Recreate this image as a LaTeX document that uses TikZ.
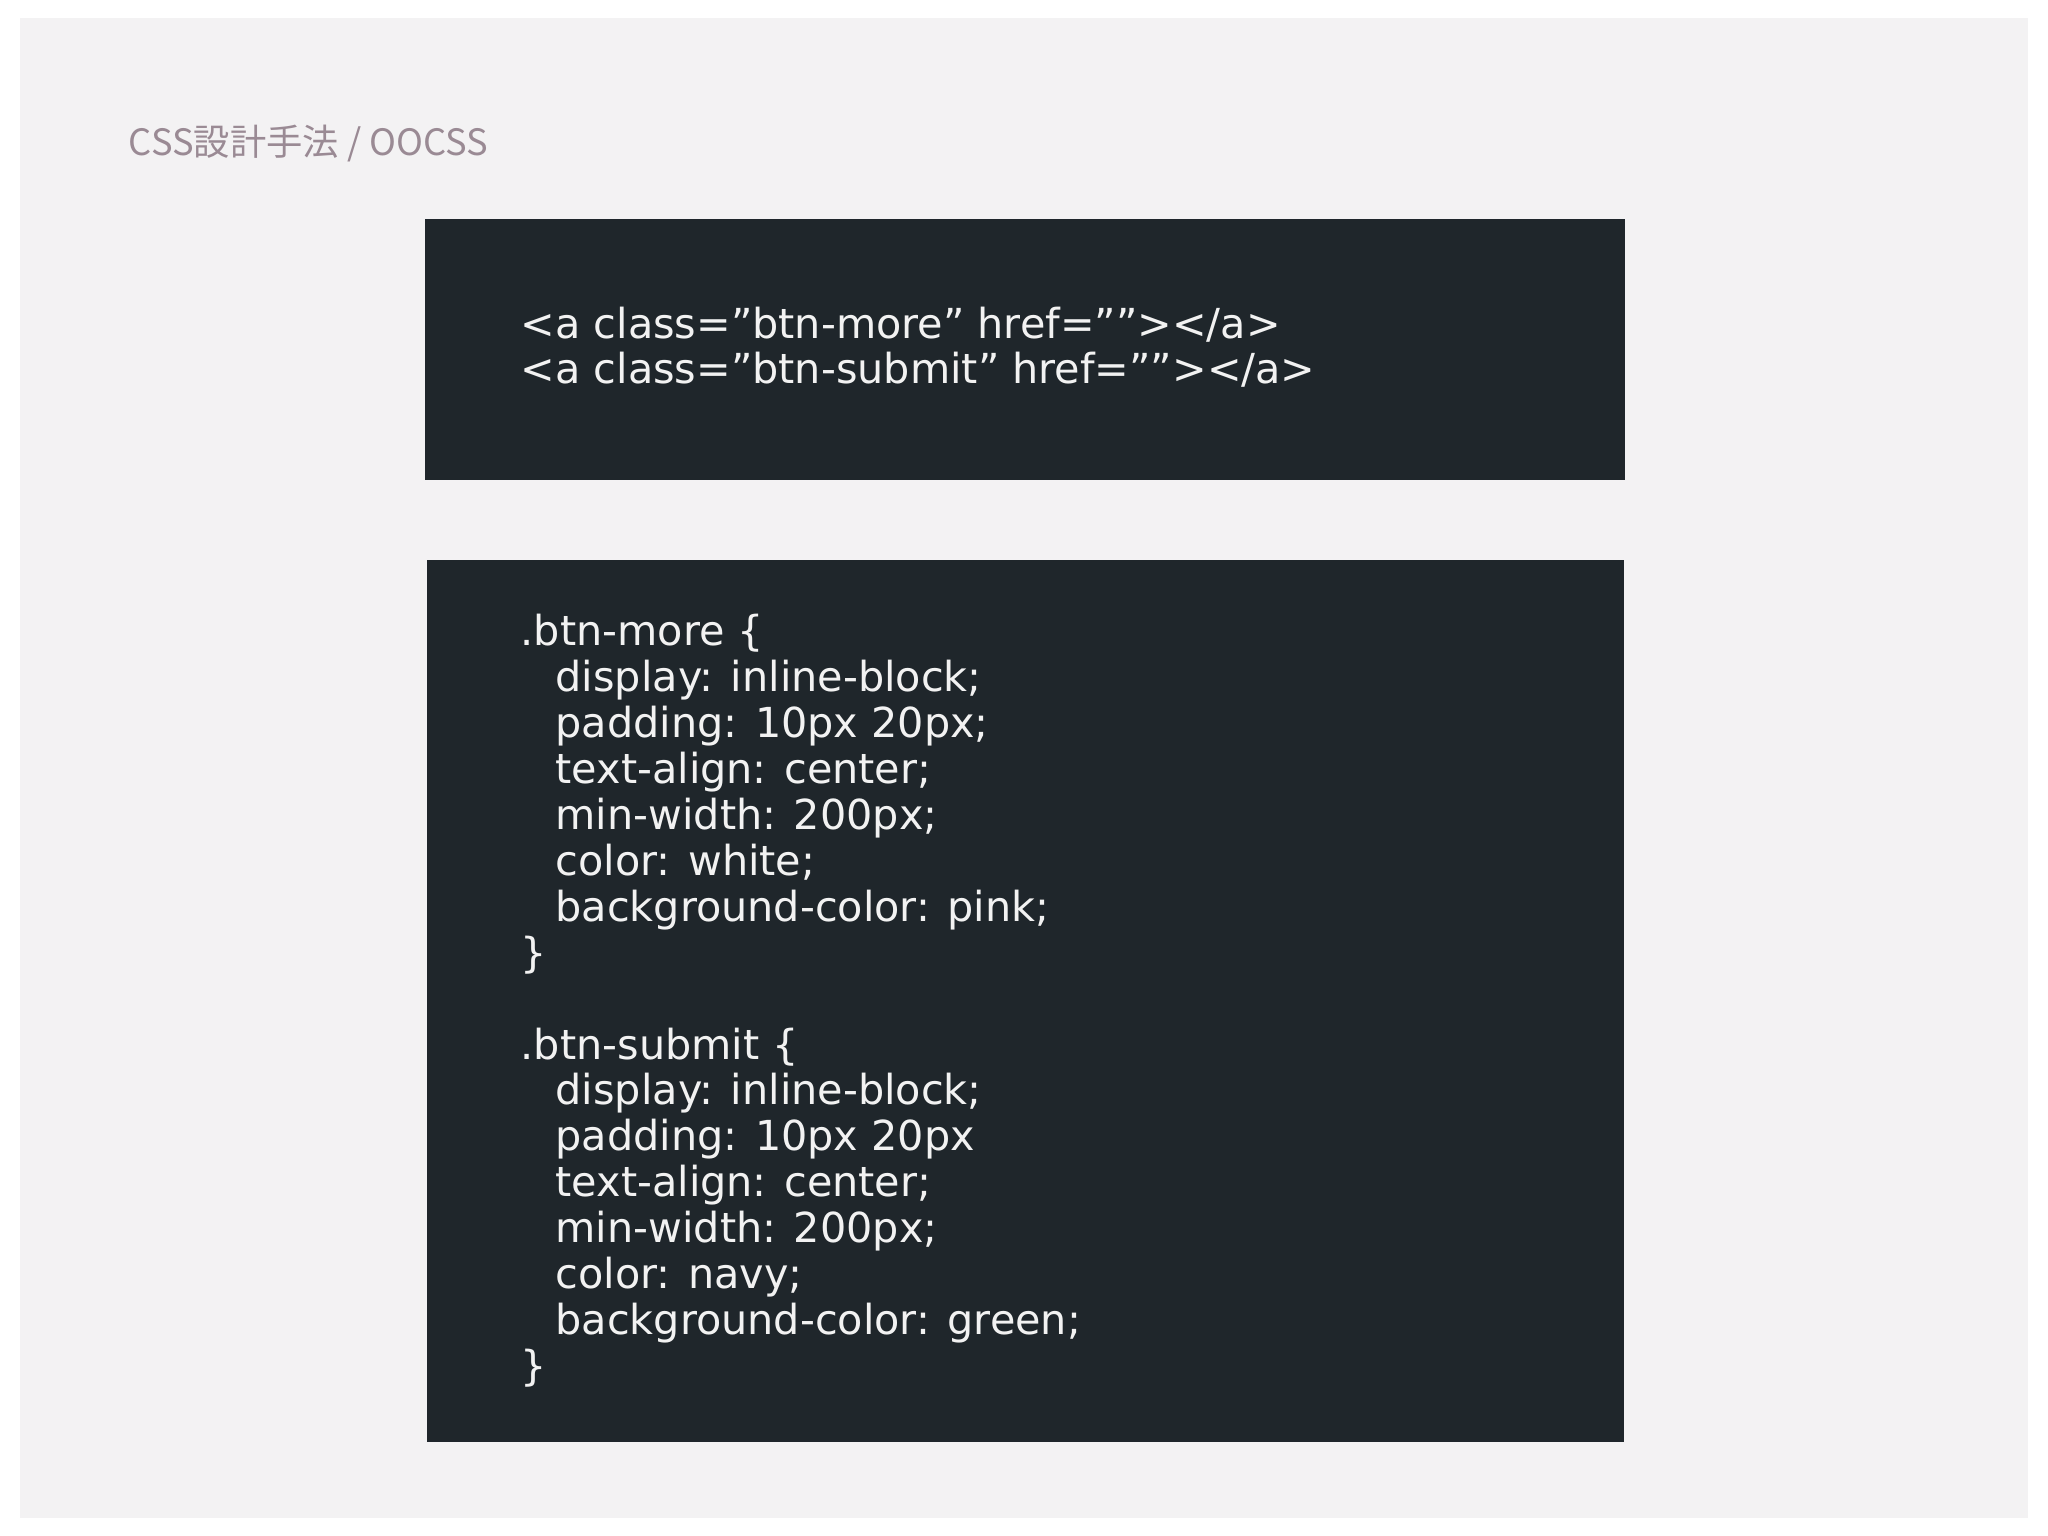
\documentclass[tikz,border=0pt]{standalone}
\usepackage{fontspec}
\setmainfont{DejaVu Sans}
\newfontfamily\cjkfont{Noto Sans CJK JP}
\newcommand\dq{\char34\relax}
\definecolor{pagebg}{HTML}{F3F2F3}
\definecolor{codebg}{HTML}{1F262B}
\definecolor{titlec}{HTML}{9A8A94}
\definecolor{codetxt}{HTML}{F2F2F2}
\tikzset{
  codebox/.style={fill=codebg,draw=none,anchor=north west,inner sep=0pt},
  codeline/.style={anchor=base west,inner sep=0pt,text=codetxt,font=\fontsize{9pt}{10pt}\selectfont},
}
\begin{document}
\begin{tikzpicture}[x=0.01cm,y=-0.01cm]
\useasboundingbox (0,0) rectangle (1568,1176);
\fill[white] (0,0) rectangle (1568,1176);
\fill[pagebg] (15,14) rectangle (1553,1162);
\node[anchor=base west,inner sep=0pt,text=titlec,font=\cjkfont\fontsize{7.9pt}{8pt}\selectfont] (title) at (98,119) {CSS設計手法 / OOCSS};
\node[codebox,minimum width=9.18cm,minimum height=2.00cm] (html) at (325,167) {};
\node[codebox,minimum width=9.16cm,minimum height=6.75cm] (css) at (326,428) {};
\node[codeline] (h1) at (398,259) {<a class=\dq btn-more\dq\ href=\dq\dq></a>};
\node[codeline] (h2) at (398,294) {<a class=\dq btn-submit\dq\ href=\dq\dq></a>};
\foreach \t [count=\i] in {
  {.btn-more \{},
  {\hspace*{7.6pt}display: inline-block;},
  {\hspace*{7.6pt}padding: 10px 20px;},
  {\hspace*{7.6pt}text-align: center;},
  {\hspace*{7.6pt}min-width: 200px;},
  {\hspace*{7.6pt}color: white;},
  {\hspace*{7.6pt}background-color: pink;},
  {\}},
  {},
  {.btn-submit \{},
  {\hspace*{7.6pt}display: inline-block;},
  {\hspace*{7.6pt}padding: 10px 20px},
  {\hspace*{7.6pt}text-align: center;},
  {\hspace*{7.6pt}min-width: 200px;},
  {\hspace*{7.6pt}color: navy;},
  {\hspace*{7.6pt}background-color: green;},
  {\}}}
  \node[codeline] (c\i) at (398,{494+35.2*(\i-1)}) {\t};
\end{tikzpicture}
\end{document}
